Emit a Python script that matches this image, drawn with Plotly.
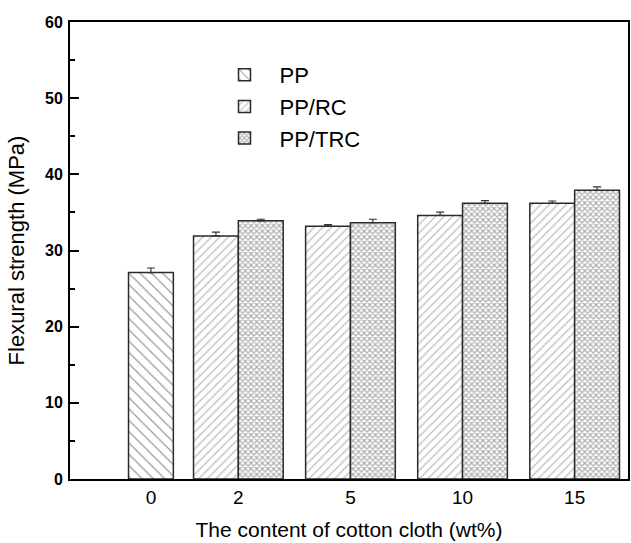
import plotly.graph_objects as go

# ---- data ----
categories = ["0", "2", "5", "10", "15"]
pp_cat = ["0"]
pp_vals = [27.1]
pp_err = [0.6]
comp_cats = ["2", "5", "10", "15"]
rc_vals = [31.9, 33.2, 34.6, 36.2]
rc_err = [0.5, 0.2, 0.45, 0.3]
trc_vals = [33.9, 33.65, 36.2, 37.9]
trc_err = [0.2, 0.45, 0.35, 0.45]

# ---- layout positions of categories on the axis ----
cat_pos = {"0": 0.22, "2": 1, "5": 2, "10": 3, "15": 4}
BW = 0.4

FONT = "Liberation Sans, Arial, sans-serif"
edge = dict(color="#2a2a2a", width=1.5)
err_style = dict(type="data", symmetric=False, thickness=1.2, width=4, color="#333333")

fig = go.Figure()
fig.add_trace(go.Bar(
    name="PP", x=[cat_pos[c] for c in pp_cat], y=pp_vals, width=BW, offset=-BW / 2,
    marker=dict(color="white", line=edge,
                pattern=dict(shape="\\", size=8, solidity=0.15, fgcolor="#333333", bgcolor="white")),
    error_y=dict(array=pp_err, arrayminus=[0] * len(pp_err), **err_style),
))
fig.add_trace(go.Bar(
    name="PP/RC", x=[cat_pos[c] for c in comp_cats], y=rc_vals, width=BW, offset=-BW,
    marker=dict(color="white", line=edge,
                pattern=dict(shape="/", size=6, solidity=0.22, fgcolor="#808080", bgcolor="white")),
    error_y=dict(array=rc_err, arrayminus=[0] * len(rc_err), **err_style),
))
fig.add_trace(go.Bar(
    name="PP/TRC", x=[cat_pos[c] for c in comp_cats], y=trc_vals, width=BW, offset=0,
    marker=dict(color="white", line=edge,
                pattern=dict(shape="x", size=4, solidity=0.5, fgcolor="#5a5a5a", bgcolor="white")),
    error_y=dict(array=trc_err, arrayminus=[0] * len(trc_err), **err_style),
))

fig.update_layout(
    width=631, height=543,
    margin=dict(l=70, r=1, t=22, b=64),
    paper_bgcolor="white", plot_bgcolor="white",
    barmode="overlay",
    font=dict(family=FONT, color="black"),
    showlegend=True,
    legend=dict(x=0.25, y=0.93, xanchor="left", yanchor="top",
                font=dict(size=22, family=FONT), bgcolor="rgba(0,0,0,0)",
                itemwidth=60, tracegroupgap=4),
)
fig.update_xaxes(
    range=[-0.502, 4.476],
    tickvals=[cat_pos[c] for c in categories], ticktext=categories,
    ticks="", showgrid=False, zeroline=False,
    showline=True, linecolor="black", linewidth=2, mirror=True,
    tickfont=dict(size=19, family=FONT),
    ticklabelstandoff=0,
    title=dict(text="The content of cotton cloth (wt%)", font=dict(size=21, family=FONT), standoff=16),
)
fig.update_yaxes(
    range=[0, 60], dtick=10, tick0=0,
    ticks="inside", ticklen=9, tickwidth=1.5, tickcolor="black",
    minor=dict(dtick=5, ticks="inside", ticklen=5, tickwidth=1.5, tickcolor="black"),
    showgrid=False, zeroline=False,
    showline=True, linecolor="black", linewidth=2, mirror=True,
    tickfont=dict(size=16, family=FONT, weight="bold"),
    ticklabelstandoff=2,
    title=dict(text="Flexural strength (MPa)", font=dict(size=22, family=FONT), standoff=14),
)

fig.write_html("out.html")
